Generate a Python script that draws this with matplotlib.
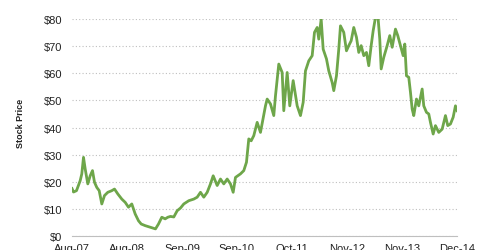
import matplotlib
matplotlib.use("Agg")
import matplotlib.pyplot as plt

# positions in tick units (0 = Aug-07 ... 7 = Dec-14)
pos = [71.5, 73, 76, 79.7, 81.3, 83, 84.7, 87.3, 89.7, 92, 94, 96.3, 98.7, 101.3, 104,
       107.3, 111.3, 114, 117.3, 121.3, 124.7, 128, 131.3, 134.7, 138, 140.7, 144.7, 149.7,
       155, 158, 161.3, 164.7, 167.3, 170, 173.3, 176.7, 180, 183.3, 188.3, 193.3, 196.7,
       200, 203.3, 206.7, 210, 212.7, 216.7, 220, 223.3, 226.7, 230, 232.7, 235, 240,
       243.3, 246, 248.3, 250.7, 253.3, 256.7, 260, 265, 266.7, 270, 273.3, 275, 278.3,
       281.7, 283.3, 286.7, 289.3, 292.7, 296.7, 300, 302.7, 305, 308.3, 311.7, 314,
       316.7, 318.3, 320.7, 322.7, 326, 328.3, 331.7, 333.3, 336, 338.3, 340, 343.3, 346,
       348.3, 350.7, 353.3, 356, 358.3, 360.7, 363.3, 366, 368.3, 370.7, 372.7, 375,
       377.3, 379.3, 380.7, 383.3, 386.7, 389.3, 391.7, 395, 397.3, 400, 402.7, 404.3,
       406, 408.3, 410, 411.7, 413.3, 416, 418.3, 421.7, 423.3, 426, 428.3, 430, 432.7,
       435, 438.3, 441.7, 445, 447.3, 450, 452.7, 455, 456.7]
pos = [(p - 71.5) / 55.0 for p in pos]

price = [17.5, 16.2, 16.7, 20.4, 22.9, 29, 24.7, 19.2, 22.2, 24.1, 19.8, 17.9, 16.7, 11.8, 14.9,
         16.1, 16.7, 17.3, 15.5, 13.6, 12.4, 10.6, 11.8, 8.1, 5.6, 4.4, 3.8, 3.2,
         2.6, 4.4, 6.9, 6.3, 6.9, 7.2, 7.0, 9.3, 10.3, 11.8, 13, 13.6, 14.3,
         16.1, 14.3, 16.1, 19.2, 22.2, 18.6, 21, 19.2, 21, 19.2, 16.1, 21.6, 22.9,
         24.1, 27.2, 35.8, 35.1, 37, 41.9, 38.2, 48, 50.5, 48.7, 44.4, 51.7, 63.4,
         60.3, 46.2, 60.3, 48, 57.3, 48, 44.4, 49.3, 60.9, 64.6, 66.5, 75.1,
         76.9, 72.6, 80, 68.9, 65.3, 60.9, 56.6, 53.6, 59.1, 68.9, 77.5, 75.1, 68.3,
         70.2, 72, 76.9, 73.3, 67.7, 70.2, 66.5, 67.7, 62.8, 70.2, 75.7, 80.6,
         81.8, 72.6, 61.6, 65.9, 70.2, 73.9, 69.6, 76.3, 73.9, 70.2, 66.5, 70.8,
         59.1, 58.5, 53, 46.8, 44.4, 50.5, 48, 54.2, 48, 45.6, 45, 41.9, 37.6,
         40.7, 38.2, 39.4, 44.4, 40.7, 41.3, 43.8, 48, 46.2]

tick_labels = ["Aug-07", "Aug-08", "Sep-09", "Sep-10", "Oct-11", "Nov-12", "Nov-13", "Dec-14"]
y_ticks = [0, 10, 20, 30, 40, 50, 60, 70, 80]

plt.rcParams["font.family"] = ["Liberation Sans", "DejaVu Sans"]

fig = plt.figure(figsize=(4.8, 2.51), dpi=100)
ax = fig.add_axes([0.15, 0.056, 0.802, 0.864])

ax.plot(pos, price, color="#6ea64a", linewidth=2.0, solid_joinstyle="round")

ax.set_xlim(0, 7)
ax.set_ylim(0, 80)
ax.set_yticks(y_ticks)
ax.set_yticklabels(["$%d" % v for v in y_ticks])
ax.set_xticks(range(len(tick_labels)))
ax.set_xticklabels(tick_labels)

ax.grid(axis="y", linestyle=(0, (1, 2)), color="#bfbfbf", linewidth=0.8)
ax.set_axisbelow(True)
for s in ["left", "right", "top"]:
    ax.spines[s].set_visible(False)
ax.spines["bottom"].set_color("#bfbfbf")
ax.tick_params(axis="both", length=0, labelsize=8, colors="#222222")
ax.tick_params(axis="y", pad=7)
ax.tick_params(axis="x", pad=5)

fig.text(0.042, 0.51, "Stock Price", rotation=90, ha="center", va="center",
         fontsize=6.5, fontweight="bold", color="#222222")

fig.savefig("out.png", dpi=100)
